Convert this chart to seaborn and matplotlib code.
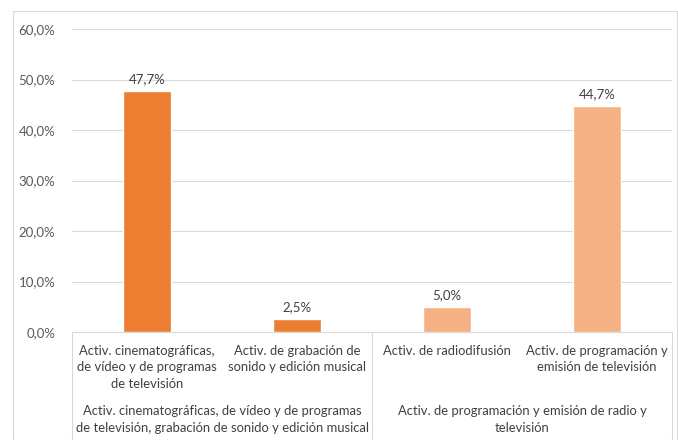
import matplotlib
matplotlib.use("Agg")
import matplotlib.pyplot as plt
import seaborn as sns
import pandas as pd
from matplotlib.patches import Rectangle
from matplotlib.lines import Line2D
from matplotlib.ticker import FuncFormatter, MultipleLocator

categories = [
    "Activ. cinematográficas,\nde vídeo y de programas\nde televisión",
    "Activ. de grabación de\nsonido y edición musical",
    "Activ. de radiodifusión",
    "Activ. de programación y\nemisión de televisión",
]
values = [47.7, 2.5, 5.0, 44.7]
groups = [
    "Activ. cinematográficas, de vídeo y de programas\nde televisión, grabación de sonido y edición musical",
    "Activ. de programación y emisión de radio y\ntelevisión",
]
group_of = [0, 0, 1, 1]
colors = ["#ED7D31", "#ED7D31", "#F4B183", "#F4B183"]

sns.set_theme(style="white")
plt.rcParams["font.family"] = ["Lato", "DejaVu Sans"]

fig = plt.figure(figsize=(6.78, 4.40), dpi=100)
W, H = 678, 440
ax = fig.add_axes([72 / W, 1 - 332 / H, 600 / W, (332 - 29) / H])

df = pd.DataFrame({"cat": categories, "val": values})
sns.barplot(data=df, x="cat", y="val", hue="cat", palette=colors, legend=False,
            width=0.32, ax=ax, saturation=1)

ax.set_ylim(0, 60)
ax.set_xlim(-0.5, len(categories) - 0.5)
ax.yaxis.set_major_locator(MultipleLocator(10))
ax.yaxis.set_major_formatter(FuncFormatter(lambda v, p: f"{v:.1f}%".replace(".", ",")))
ax.grid(axis="y", color="#d9d9d9", linewidth=0.8)
ax.set_axisbelow(True)
for s in ["top", "right", "left"]:
    ax.spines[s].set_visible(False)
ax.spines["bottom"].set_color("#d9d9d9")
ax.spines["bottom"].set_linewidth(0.8)
ax.tick_params(axis="y", length=0, labelsize=9.5, colors="#595959", pad=12)
ax.set_xticks([])
ax.set_xlabel("")
ax.set_ylabel("")

for i, v in enumerate(values):
    ax.text(i, v + 1.2, f"{v:.1f}%".replace(".", ","), ha="center", va="bottom",
            fontsize=9.5, color="#404040")

tr = ax.get_xaxis_transform()
for i, c in enumerate(categories):
    ax.text(i, -0.042, c, transform=tr, ha="center", va="top", fontsize=9.4,
            color="#404040", linespacing=1.45, clip_on=False)

for g, name in enumerate(groups):
    idx = [i for i, gg in enumerate(group_of) if gg == g]
    xc = (min(idx) + max(idx)) / 2
    ax.text(xc, -0.242, name, transform=tr, ha="center", va="top", fontsize=9.4,
            color="#404040", linespacing=1.45, clip_on=False)

# group separators
bounds = [-0.5] + [i + 0.5 for i in range(len(group_of) - 1) if group_of[i] != group_of[i + 1]] + [len(group_of) - 0.5]
for b in bounds:
    ax.add_line(Line2D([b, b], [0, -0.4], transform=tr, color="#d9d9d9", linewidth=0.8, clip_on=False))

fig.patches.append(Rectangle((13 / W, 0), (677 - 13) / W, 1 - 11 / H, transform=fig.transFigure,
                             fill=False, edgecolor="#d9d9d9", linewidth=0.8))

fig.savefig("out.png", dpi=100)
